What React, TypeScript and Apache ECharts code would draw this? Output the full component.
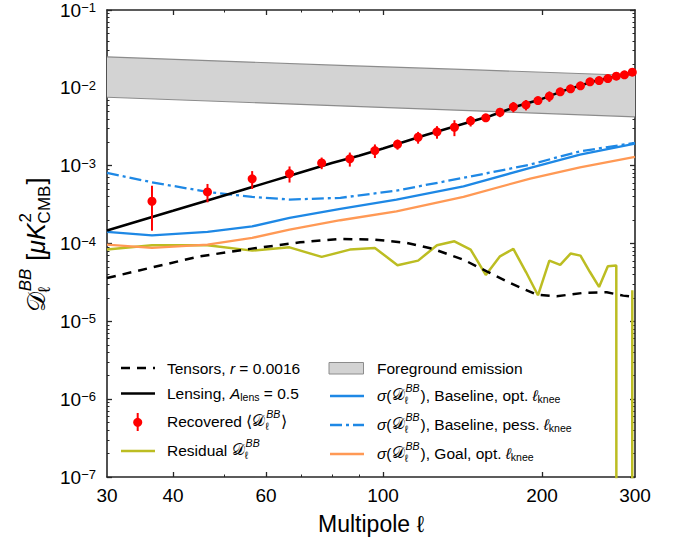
import { useEffect, useRef } from "react";
import * as echarts from "echarts";

const FONT = "'Liberation Sans', Arial, sans-serif";
const CAL = "'DejaVu Serif', 'DejaVu Sans', serif";

// ---- axis ticks / labels ----
const xTickLabels = [30, 40, 60, 100, 200, 300];
const xMajorTicks = [40, 60, 100, 200];
const xMinorTicks = [50, 70, 80, 90];
const yDecadeExps = [-7, -6, -5, -4, -3, -2, -1];
const yMinorMantissas = [2, 3, 4, 5, 6, 7, 8, 9];

// ---- foreground emission band ----
const fgEll = [30, 83, 150, 300];
const fgHi = [2.5e-2, 1.94e-2, 1.7e-2, 1.44e-2];
const fgLo = [7.57e-3, 5.86e-3, 5.05e-3, 4.24e-3];

// ---- tensors r = 0.0016 ----
const tensEll = [30, 36.2, 45, 56, 69.6, 82.9, 96.5, 110.9, 124.3, 141.9, 157.1, 174, 195.4, 213.2, 239.4, 265.2, 285, 300];
const tensVal = [3.6e-5, 4.86e-5, 6.85e-5, 8.53e-5, 1.036e-4, 1.146e-4, 1.122e-4, 1.018e-4, 8.53e-5, 6.21e-5, 4.39e-5, 3.11e-5, 2.2e-5, 2.1e-5, 2.32e-5, 2.36e-5, 2.14e-5, 2.05e-5];

// ---- lensing A_lens = 0.5 ----
const lensEll = [30, 40, 50, 60, 70, 80, 90, 100, 120, 140, 160, 180, 200, 220, 250, 280, 300];
const lensVal = [1.47e-4, 2.63e-4, 4.14e-4, 6.01e-4, 8.23e-4, 1.08e-3, 1.34e-3, 1.66e-3, 2.46e-3, 3.35e-3, 4.38e-3, 5.83e-3, 7.2e-3, 9.2e-3, 1.208e-2, 1.44e-2, 1.596e-2];

// ---- sigma curves ----
const sigEll = [30, 36.5, 46.5, 56.5, 66.5, 83, 106, 142, 190, 236, 300];
const sigBaseOpt = [1.41e-4, 1.27e-4, 1.41e-4, 1.66e-4, 2.13e-4, 2.79e-4, 3.67e-4, 5.43e-4, 9.37e-4, 1.39e-3, 1.92e-3];
const sigBasePess = [8.08e-4, 6.12e-4, 4.6e-4, 3.97e-4, 3.67e-4, 3.86e-4, 4.79e-4, 6.97e-4, 1.033e-3, 1.53e-3, 1.96e-3];
const sigGoalOpt = [9.7e-5, 8.8e-5, 9.7e-5, 1.18e-4, 1.51e-4, 1.99e-4, 2.59e-4, 3.97e-4, 6.83e-4, 9.54e-4, 1.3e-3];

// ---- residual ----
const resEll = [30, 36.5, 46.5, 56.5, 66.5, 76.5, 86.5, 96.5, 106.5, 116.5, 126.5, 136.5, 146.5, 156.5, 166.5, 176.5, 186.5, 196.5, 206.5, 216.5, 226.5, 236.5, 246.5, 256.5, 266.5, 276.5, 286.5, 296.5];
const resVal = [8.35e-5, 9.48e-5, 9.48e-5, 8.1e-5, 8.93e-5, 6.73e-5, 8.35e-5, 8.78e-5, 5.25e-5, 6.03e-5, 9.48e-5, 1.067e-4, 8.35e-5, 3.95e-5, 6.85e-5, 8.52e-5, 4.3e-5, 2.16e-5, 6.03e-5, 5.31e-5, 7.42e-5, 6.99e-5, 4.3e-5, 2.77e-5, 5.09e-5, 5.2e-5, -3.0e-5, 2.5e-5];

// ---- recovered bandpowers ----
const recEll = [36.5, 46.5, 56.5, 66.5, 76.5, 86.5, 96.5, 106.5, 116.5, 126.5, 136.5, 146.5, 156.5, 166.5, 176.5, 186.5, 196.5, 206.5, 216.5, 226.5, 236.5, 246.5, 256.5, 266.5, 276.5, 286.5, 296.5];
const recVal = [3.49e-4, 4.6e-4, 6.77e-4, 7.92e-4, 1.086e-3, 1.223e-3, 1.563e-3, 1.884e-3, 2.317e-3, 2.72e-3, 3.115e-3, 3.765e-3, 4.115e-3, 4.857e-3, 5.7e-3, 6.05e-3, 6.87e-3, 7.8e-3, 8.89e-3, 9.71e-3, 1.061e-2, 1.194e-2, 1.241e-2, 1.317e-2, 1.41e-2, 1.47e-2, 1.587e-2];
const recErr = [2.03e-4, 1.22e-4, 1.75e-4, 1.85e-4, 1.85e-4, 2.5e-4, 3.1e-4, 2.8e-4, 4.0e-4, 5.0e-4, 7.2e-4, 5.8e-4, 3.0e-4, 6.6e-4, 8.6e-4, 9.2e-4, 6.0e-4, 1.2e-3, 8e-4, 8.5e-4, 9e-4, 1.0e-3, 1.0e-3, 1.1e-3, 1.1e-3, 1.2e-3, 1.2e-3];

const BLUE = "#1e88e5";
const ORANGE = "#ff9955";
const OLIVE = "#bcbd22";
const SPINE = "#262626";

const L = (v: number) => (v > 0 ? Math.log10(v) : -300);
const pairs = (xs: number[], ys: number[]) => xs.map((x, i) => [L(x), L(ys[i])]);

type Seg = { t?: string; it?: boolean; sc?: number; dy?: number; fam?: string; sup?: string; sub?: string; supIt?: boolean; subIt?: boolean };

export default function App() {
  const ref = useRef<HTMLDivElement>(null);
  useEffect(() => {
    if (!ref.current) return;
    const chart = echarts.init(ref.current, undefined, { renderer: "svg" });
    const cv = document.createElement("canvas");
    const ctx = cv.getContext("2d")!;
    const tw = (t: string, fs: number, it: boolean, fam: string) => {
      ctx.font = `${it ? "italic " : ""}${fs}px ${fam}`;
      return ctx.measureText(t).width;
    };
    const mk = (tx: string, px: number, py: number, size: number, it: boolean, fam: string) => ({
      type: "text",
      x: px,
      y: py,
      silent: true,
      style: {
        text: tx,
        fontSize: size,
        fontFamily: fam,
        fontStyle: it ? "italic" : "normal",
        fill: "#000",
        textAlign: "left",
        align: "left",
        textVerticalAlign: "middle",
        verticalAlign: "middle",
      },
    });
    const mathRun = (x0: number, y: number, fs: number, segs: Seg[]) => {
      const els: any[] = [];
      let x = x0;
      for (const s of segs) {
        if (s.sup !== undefined || s.sub !== undefined) {
          const sm = fs * 0.68;
          let w = 0;
          if (s.sup) {
            els.push(mk(s.sup, x + 1, y - fs * 0.42, sm, !!s.supIt, FONT));
            w = Math.max(w, tw(s.sup, sm, !!s.supIt, FONT) + 1);
          }
          if (s.sub) {
            els.push(mk(s.sub, x, y + fs * 0.32, sm, !!s.subIt, FONT));
            w = Math.max(w, tw(s.sub, sm, !!s.subIt, FONT));
          }
          x += w + 1;
        } else {
          const size = fs * (s.sc || 1);
          const fam = s.fam || FONT;
          els.push(mk(s.t!, x, y + (s.dy || 0), size, !!s.it, fam));
          x += tw(s.t!, size, !!s.it, fam);
        }
      }
      return { els, w: x - x0 };
    };
    const Dseg: Seg = { t: "𝒟", fam: CAL };
    const Dstack: Seg = { sup: "BB", sub: "ℓ", supIt: true };

    const fsL = 15.5;
    const c1Text = 167;
    const c2Text = 377;
    const legendEls: any[] = [];
    const addRun = (x: number, y: number, segs: Seg[]) => legendEls.push(...mathRun(x, y, fsL, segs).els);
    // column 1
    legendEls.push({ type: "line", shape: { x1: 121, y1: 368, x2: 155, y2: 368 }, style: { stroke: "#000", lineWidth: 2.5, lineDash: [9, 7] } });
    addRun(c1Text, 368, [{ t: "Tensors, " }, { t: "r", it: true }, { t: " = 0.0016" }]);
    legendEls.push({ type: "line", shape: { x1: 121, y1: 393.5, x2: 155, y2: 393.5 }, style: { stroke: "#000", lineWidth: 2.5 } });
    addRun(c1Text, 393, [{ t: "Lensing, " }, { t: "A", it: true }, { t: "lens", sc: 0.68, dy: 4 }, { t: " = 0.5" }]);
    legendEls.push({ type: "line", shape: { x1: 137.7, y1: 413, x2: 137.7, y2: 431 }, style: { stroke: "#ff0000", lineWidth: 2 } });
    legendEls.push({ type: "circle", shape: { cx: 137.7, cy: 422.3, r: 4.5 }, style: { fill: "#ff0000" } });
    addRun(c1Text, 421, [{ t: "Recovered ⟨" }, Dseg, Dstack, { t: "⟩" }]);
    legendEls.push({ type: "line", shape: { x1: 121, y1: 451, x2: 155, y2: 451 }, style: { stroke: OLIVE, lineWidth: 2.5 } });
    addRun(c1Text, 450, [{ t: "Residual " }, Dseg, Dstack]);
    // column 2
    legendEls.push({ type: "rect", shape: { x: 329, y: 362.5, width: 34.5, height: 11.5 }, style: { fill: "#d3d3d3", stroke: "#8c8c8c", lineWidth: 1 } });
    addRun(c2Text, 368, [{ t: "Foreground emission" }]);
    const sigSegs = (txt: string): Seg[] => [{ t: "σ", it: true }, { t: "(" }, Dseg, Dstack, { t: "), " + txt + " " }, { t: "ℓ", it: true }, { t: "knee", sc: 0.68, dy: 4 }];
    legendEls.push({ type: "line", shape: { x1: 330, y1: 396, x2: 364, y2: 396 }, style: { stroke: BLUE, lineWidth: 2.5 } });
    addRun(c2Text, 395, sigSegs("Baseline, opt."));
    legendEls.push({ type: "line", shape: { x1: 330, y1: 425, x2: 364, y2: 425 }, style: { stroke: BLUE, lineWidth: 2.5, lineDash: [12, 4, 3, 4] } });
    addRun(c2Text, 424, sigSegs("Baseline, pess."));
    legendEls.push({ type: "line", shape: { x1: 330, y1: 454, x2: 364, y2: 454 }, style: { stroke: ORANGE, lineWidth: 2.5 } });
    addRun(c2Text, 453, sigSegs("Goal, opt."));

    // y-axis title (rotated)
    const title = mathRun(0, 0, 25, [
      { t: "𝒟", fam: CAL },
      { sup: "BB", sub: "ℓ", supIt: true },
      { t: " [" },
      { t: "μ", it: true },
      { t: "K", it: true },
      { sup: "2", sub: "CMB" },
      { t: "]" },
    ]);
    title.els.forEach((e) => (e.x -= title.w / 2));

    const yMinor: number[] = [];
    yDecadeExps.slice(0, -1).forEach((n) => yMinorMantissas.forEach((m) => yMinor.push(n + Math.log10(m))));
    const lx = (a: number[]) => a.map((v) => Math.log10(v));

    const xBase: any = { type: "value", min: Math.log10(30), max: Math.log10(300), splitLine: { show: false } };
    const yBase: any = { type: "value", min: -7, max: -1, splitLine: { show: false } };
    const spine = { show: true, onZero: false, lineStyle: { color: SPINE, width: 1.6 } };
    const maj = (vals: number[]) => ({ show: true, inside: true, length: 5, customValues: vals, lineStyle: { color: SPINE, width: 1.3 } });
    const mnr = (vals: number[]) => ({ show: true, inside: true, length: 2.5, customValues: vals, lineStyle: { color: SPINE, width: 1 } });

    const lineS = (name: string, xs: number[], ys: number[], color: string, width: number, type: any = "solid", z = 3) => ({
      type: "line",
      name,
      data: pairs(xs, ys),
      showSymbol: false,
      symbol: "none",
      clip: true,
      z,
      silent: true,
      lineStyle: { color, width, type },
    });

    chart.setOption({
      animation: false,
      grid: { left: 107, right: 43, top: 10, bottom: 68, containLabel: false, outerBoundsMode: "none" },
      xAxis: [
        {
          ...xBase,
          position: "bottom",
          axisLine: spine,
          axisTick: maj(lx(xMajorTicks)),
          axisLabel: {
            show: true,
            customValues: lx(xTickLabels),
            formatter: (v: number) => String(Math.round(Math.pow(10, v))),
            margin: 9,
            fontSize: 19,
            fontFamily: FONT,
            color: "#000",
          },
        },
        { ...xBase, position: "bottom", axisLine: { show: false }, axisTick: mnr(lx(xMinorTicks)), axisLabel: { show: false } },
        { ...xBase, position: "top", axisLine: spine, axisTick: maj(lx(xMajorTicks)), axisLabel: { show: false } },
        { ...xBase, position: "top", axisLine: { show: false }, axisTick: mnr(lx(xMinorTicks)), axisLabel: { show: false } },
      ],
      yAxis: [
        {
          ...yBase,
          position: "left",
          axisLine: spine,
          axisTick: maj(yDecadeExps),
          axisLabel: {
            show: true,
            customValues: yDecadeExps,
            margin: 11,
            formatter: (v: number) => `{b|10}{s|−${Math.round(-v)}}`,
            rich: {
              b: { fontSize: 19, fontFamily: FONT, color: "#000", lineHeight: 18 },
              s: { fontSize: 13, fontFamily: FONT, color: "#000", lineHeight: 11, verticalAlign: "top" },
            },
          },
        },
        { ...yBase, position: "left", axisLine: { show: false }, axisTick: mnr(yMinor), axisLabel: { show: false } },
        { ...yBase, position: "right", axisLine: spine, axisTick: maj(yDecadeExps), axisLabel: { show: false } },
        { ...yBase, position: "right", axisLine: { show: false }, axisTick: mnr(yMinor), axisLabel: { show: false } },
      ],
      series: [
        {
          type: "custom",
          name: "Foreground emission",
          z: 1,
          silent: true,
          data: fgEll.map((e, i) => [L(e), L(fgLo[i]), L(fgHi[i])]),
          encode: { x: 0, y: [1, 2] },
          renderItem: (params: any, api: any) => {
            if (params.dataIndex !== 0) return null;
            const top = fgEll.map((e, i) => api.coord([L(e), L(fgHi[i])]));
            const bot = fgEll.map((e, i) => api.coord([L(e), L(fgLo[i])]));
            return {
              type: "group",
              children: [
                { type: "polygon", shape: { points: [...top, ...bot.slice().reverse()] }, style: { fill: "#d3d3d3", stroke: null } },
                { type: "polyline", shape: { points: top }, style: { stroke: "#8c8c8c", lineWidth: 1.2, fill: null } },
                { type: "polyline", shape: { points: bot }, style: { stroke: "#8c8c8c", lineWidth: 1.2, fill: null } },
              ],
            };
          },
        },
        lineS("Residual", resEll, resVal, OLIVE, 2.5, "solid", 2),
        lineS("Goal opt", sigEll, sigGoalOpt, ORANGE, 2.3),
        lineS("Baseline opt", sigEll, sigBaseOpt, BLUE, 2.3),
        lineS("Baseline pess", sigEll, sigBasePess, BLUE, 2.3, [12, 4, 3, 4]),
        lineS("Tensors", tensEll, tensVal, "#000", 2.5, [9, 7]),
        lineS("Lensing", lensEll, lensVal, "#000", 2.5),
        {
          type: "custom",
          name: "errorbars",
          z: 5,
          silent: true,
          data: recEll.map((e, i) => [L(e), L(recVal[i] - recErr[i]), L(recVal[i] + recErr[i])]),
          encode: { x: 0, y: [1, 2] },
          renderItem: (params: any, api: any) => {
            const p1 = api.coord([api.value(0), api.value(1)]);
            const p2 = api.coord([api.value(0), api.value(2)]);
            return { type: "line", shape: { x1: p1[0], y1: p1[1], x2: p2[0], y2: p2[1] }, style: { stroke: "#ff0000", lineWidth: 2 } };
          },
        },
        {
          type: "scatter",
          name: "Recovered",
          z: 6,
          silent: true,
          symbolSize: 9,
          itemStyle: { color: "#ff0000", opacity: 1 },
          data: pairs(recEll, recVal),
        },
      ],
      graphic: [
        ...legendEls,
        { type: "group", x: 36, y: 245, rotation: Math.PI / 2, children: title.els },
        {
          type: "text",
          x: 371,
          y: 524,
          style: { text: "Multipole ℓ", fontSize: 23, fontFamily: FONT, fill: "#000", textAlign: "center", align: "center", textVerticalAlign: "middle", verticalAlign: "middle" },
        },
      ],
    });
    return () => chart.dispose();
  }, []);
  return <div ref={ref} style={{ position: "fixed", left: 0, top: 0, width: 678, height: 545, background: "#fff" }} />;
}
